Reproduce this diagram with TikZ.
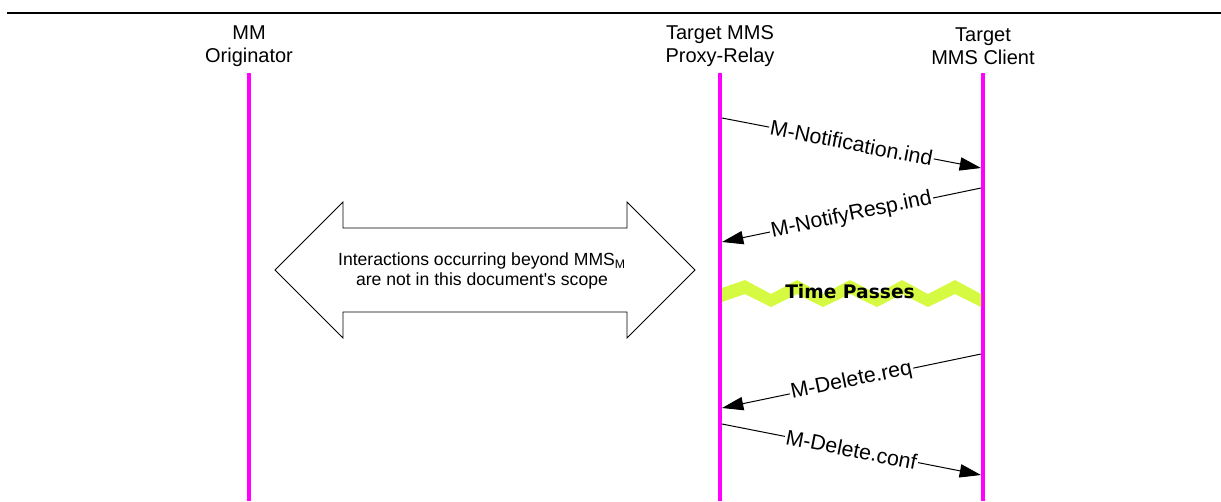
\documentclass[tikz,border=0pt]{standalone}
\usepackage{fontspec}
\setmainfont{Liberation Sans}
\newfontfamily\passfont{DejaVu Sans}
\usetikzlibrary{arrows.meta, positioning}
\definecolor{lifemagenta}{RGB}{255,0,255}
\definecolor{passgreen}{RGB}{214,250,66}

\begin{document}
\begin{tikzpicture}[
  x=0.75pt, y=-0.75pt,
  head/.style={align=center, font=\fontsize{15}{17.5}\selectfont},
  life/.style={draw=lifemagenta, line width=3pt},
  msg/.style={draw, line width=0.75pt, -{Triangle[length=16pt,width=10pt]}},
  msglabel/.style={fill=white, inner sep=1pt, sloped, midway, font=\fontsize{16}{18}\selectfont},
  bigarrow/.style={draw, line width=0.6pt, fill=white},
  scopetext/.style={align=center, font=\fontsize{13.2}{15}\selectfont},
  passband/.style={fill=passgreen, draw=none},
  passtext/.style={font=\passfont\bfseries\fontsize{14}{16}\selectfont}
]
\useasboundingbox (0,0) rectangle (1221,501);
\draw[line width=2pt] (7,13) -- (1221,13);

% lifeline heads
\node[head] (orig) at (249,46) {MM\\Originator};
\node[head] (relay) at (720,46) {Target MMS\\Proxy-Relay};
\node[head] (client) at (983,46) {Target\\MMS Client};

\coordinate (orig-top) at (249,73);
\coordinate (orig-end) at (249,501);
\coordinate (relay-top) at (720,73);
\coordinate (relay-end) at (720,501);
\coordinate (client-top) at (983,73);
\coordinate (client-end) at (983,501);
\draw[life] (orig-top) -- (orig-end);
\draw[life] (relay-top) -- (relay-end);
\draw[life] (client-top) -- (client-end);

% out of scope arrow
\draw[bigarrow] (275,270) -- (343,202) -- (343,228) -- (627,228) -- (627,202)
  -- (695,270) -- (627,338) -- (627,312) -- (343,312) -- (343,338) -- cycle;
\node[scopetext] (scope) at (482,271) {Interactions occurring beyond MMS\textsubscript{M}\\are not in this document\textquotesingle s scope};

% time passes
\path[passband] (722,288) -- (745,280) -- (771,294) -- (797,280) -- (823,294)
  -- (850,280) -- (877,294) -- (902,280) -- (928,294) -- (955,280) -- (981,294)
  -- (981,307) -- (955,294) -- (928,307) -- (902,294) -- (877,307) -- (850,294)
  -- (823,307) -- (797,294) -- (771,307) -- (745,294) -- (722,302) -- cycle;
\node[passtext] (pass) at (850,292) {Time Passes};

% messages
\coordinate (r1) at (722,118);
\coordinate (c1) at (981,168);
\coordinate (c2) at (981,188);
\coordinate (r2) at (722,242);
\coordinate (c3) at (981,354);
\coordinate (r3) at (722,408);
\coordinate (r4) at (722,424);
\coordinate (c4) at (981,475);
\path (r1) edge[msg] node[msglabel] {M-Notification.ind} (c1)
(c2) edge[msg] node[msglabel] {M-NotifyResp.ind} (r2)
(c3) edge[msg] node[msglabel] {M-Delete.req} (r3)
(r4) edge[msg] node[msglabel] {M-Delete.conf} (c4)
;
\end{tikzpicture}
\end{document}
